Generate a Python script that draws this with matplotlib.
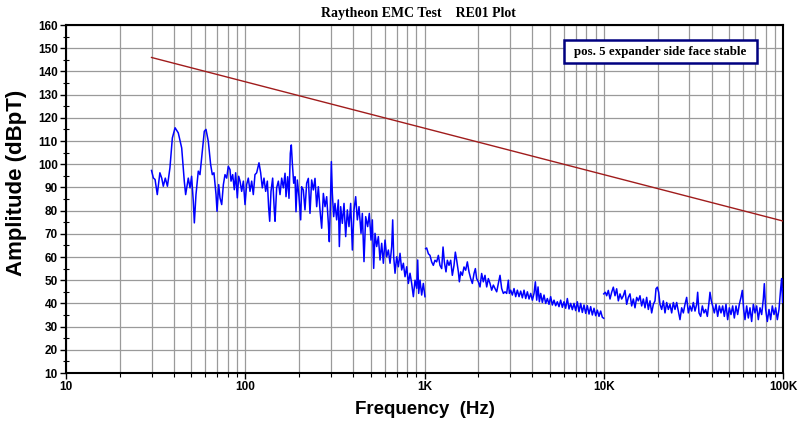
import matplotlib
matplotlib.use("Agg")
import matplotlib.pyplot as plt
from matplotlib.ticker import FixedLocator, FixedFormatter, LogLocator, NullFormatter, MultipleLocator
from matplotlib.patches import Rectangle

# ---------------- data ----------------
seg1_freq = [30.0, 30.7, 31.4, 32.3, 33.4, 34.2, 34.9, 35.8, 36.8, 38.0, 39.2, 40.6, 42.3, 44.2, 45.7, 46.5,
             48.1, 49.2, 50.2, 51.3, 52.0, 53.1, 54.7, 55.9, 57.4, 59.1, 60.4, 62.2, 64.1, 65.5, 66.9, 68.7,
             69.6, 71.1, 72.3, 73.9, 75.5, 77.1, 78.8, 80.4, 82.2, 83.3, 85.1, 86.9, 88.4, 90.3, 91.9, 93.5,
             95.5, 97.6, 99.7, 101.8, 104.0, 106.3, 108.6, 110.9, 113.3, 115.8, 119.3, 121.9, 124.5, 127.2,
             130.0, 132.8, 135.1, 136.9, 139.2, 142.2, 145.3, 146.6, 149.7, 153.0, 156.3, 159.7, 163.1,
             166.7, 168.8, 172.4, 175.4, 178.4, 180.7, 183.1, 186.3, 189.5, 191.9, 195.2, 199.4, 203.8, 206.4,
             210.9, 215.4, 220.1, 224.9, 229.7, 234.7, 239.8, 245.0, 250.3, 255.7, 261.2, 266.9, 272.7, 278.6,
             284.6, 290.8, 294.5, 298.3, 302.2, 306.1, 311.4, 316.7, 323.6, 330.6, 334.9, 340.7, 348.0, 355.6,
             363.3, 371.1, 379.1, 387.4, 395.8, 404.3, 413.1, 422.0, 431.2, 442.4, 450.0, 459.7, 469.7, 481.9,
             492.3, 503.0, 511.7, 520.6, 529.6, 541.1, 552.8, 564.8, 577.0, 589.5, 602.2, 615.3, 628.6, 642.2,
             656.1, 664.6, 673.2, 684.8, 699.6, 714.8, 730.2, 746.0, 762.2, 778.6, 795.5, 812.7, 830.3, 848.2,
             866.6, 885.3, 904.5, 916.2, 928.0, 944.0, 964.4, 985.1, 1006.0]
seg1_amp = [97.3, 94.1, 93.4, 86.9, 96.3, 94.0, 90.5, 94.0, 90.5, 98.4, 111.3, 115.7, 113.5, 107.0, 92.7, 86.9,
            94.0, 89.8, 94.8, 84.0, 74.7, 86.9, 97.0, 95.5, 104.2, 114.2, 115.0, 109.9, 99.9, 95.5, 96.3, 86.9,
            79.7, 91.2, 85.5, 82.6, 91.2, 95.5, 94.0, 99.1, 97.7, 92.7, 95.5, 89.0, 96.3, 85.5, 94.8, 92.7,
            88.3, 92.7, 82.6, 91.2, 94.0, 88.3, 92.7, 86.9, 95.5, 96.3, 100.6, 96.3, 89.8, 94.0,
            88.3, 92.7, 81.2, 75.4, 88.3, 94.0, 79.7, 75.4, 89.8, 92.7, 86.9, 94.0, 89.8,
            96.1, 86.0, 94.6, 85.3, 104.7, 108.3, 100.4, 91.8, 94.6, 79.5, 93.2, 86.0, 76.0, 90.3,
            88.9, 80.3, 91.8, 93.9, 78.8, 93.2, 88.9, 93.9, 81.7, 90.3, 80.3, 72.4, 87.4, 81.7,
            86.0, 74.5, 66.6, 81.7, 101.1, 87.4, 77.4, 83.1, 76.0, 84.6, 64.5, 81.7, 74.5, 83.1,
            68.8, 80.3, 73.1, 83.1, 63.0, 80.3, 86.0, 76.0, 81.7, 70.2, 78.8, 58.0, 77.4, 73.1,
            78.8, 67.3, 76.0, 55.1, 70.2, 64.5, 68.8, 58.7, 65.9, 57.3, 67.3, 60.1, 63.0, 57.3,
            64.5, 76.0, 60.1, 53.0, 60.1, 55.8, 61.6, 54.4, 57.3, 51.5, 55.8, 48.6, 53.0, 48.6,
            42.9, 50.0, 46.5, 58.7, 44.3, 50.0, 43.6, 48.6, 42.9]

seg2_freq = [1015, 1028, 1051, 1073, 1096, 1120, 1144, 1169, 1195, 1220, 1247, 1269, 1290, 1318, 1341, 1370,
             1400, 1430, 1461, 1486, 1512, 1545, 1565, 1592, 1626, 1661, 1697, 1734, 1771, 1810, 1849, 1889,
             1922, 1954, 1997, 2040, 2084, 2129, 2175, 2223, 2271, 2320, 2370, 2422, 2474, 2528, 2582, 2638,
             2695, 2754, 2813, 2874, 2936, 2974, 3026, 3091, 3158, 3226, 3296, 3368, 3441, 3515, 3591, 3669,
             3749, 3830, 3913, 3997, 4084, 4154, 4226, 4299, 4373, 4448, 4545, 4642, 4743, 4845, 4950, 5057,
             5166, 5278, 5392, 5509, 5628, 5750, 5874, 6001, 6131, 6264, 6399, 6538, 6679, 6824, 6972, 7122,
             7277, 7434, 7595, 7760, 7928, 8099, 8275, 8454, 8637, 8824, 9015, 9210, 9408, 9612, 9820, 10000]
seg2_amp = [63.6, 63.9, 61.4, 60.7, 57.9, 56.4, 58.6, 57.9, 60.7, 56.4, 55.0, 64.3, 57.9, 53.6, 58.6, 56.4,
            58.6, 52.1, 56.4, 62.1, 58.6, 53.6, 49.3, 53.6, 52.1, 55.7, 54.3, 57.9, 53.6, 50.7, 48.6, 52.9,
            55.0, 50.7, 49.3, 47.1, 52.9, 49.3, 52.1, 47.1, 50.7, 48.6, 45.7, 47.9, 46.4, 45.0, 48.6, 52.1,
            46.4, 44.3, 45.0, 44.3, 50.0, 44.3, 45.7, 43.6, 46.4, 42.9, 45.7, 42.9, 45.3, 42.4, 45.7, 42.1,
            45.0, 41.9, 44.3, 41.4, 44.3, 49.3, 41.4, 47.1, 40.7, 44.3, 40.4, 43.6, 40.0, 42.1, 39.6, 42.9,
            39.3, 41.4, 39.0, 40.7, 38.6, 41.4, 38.3, 40.7, 37.9, 42.1, 37.6, 40.0, 37.3, 40.0, 36.9, 40.7,
            36.4, 40.0, 36.1, 39.3, 35.7, 39.0, 35.4, 38.6, 35.0, 37.9, 34.7, 37.1, 34.4, 36.7, 34.0, 33.6]

seg3_freq = [10000, 10205, 10382, 10606, 10836, 11070, 11310, 11555, 11805, 12060, 12321, 12588, 12860, 13138,
             13423, 13713, 14010, 14313, 14623, 14939, 15263, 15593, 15930, 16275, 16627, 16987, 17354, 17730,
             18114, 18505, 18906, 19315, 19565, 19903, 20247, 20597, 21043, 21498, 21963, 22439, 22924, 23420,
             23927, 24445, 24974, 25514, 26066, 26630, 27206, 27795, 28396, 29011, 29638, 30280, 30935, 31605,
             32289, 32987, 33414, 33991, 34726, 35477, 36245, 37029, 37830, 38649, 39148, 39824, 40512, 41389,
             42284, 43199, 44134, 45089, 46065, 47062, 48080, 49120, 50183, 51269, 52379, 53512, 54670, 55853,
             57061, 58296, 59303, 60328, 61370, 62698, 64055, 65441, 66857, 68304, 69782, 71292, 72835, 74411,
             76021, 77666, 78670, 80030, 81762, 83531, 85338, 87185, 89071, 90999, 92968, 94980, 97035, 98287,
             99572, 100000]
seg3_amp = [44.1, 44.8, 43.3, 45.6, 41.9, 44.8, 47.0, 43.3, 46.3, 41.1, 44.1, 41.9, 43.3, 45.6,
            39.6, 42.6, 44.1, 38.9, 41.9, 38.1, 42.6, 41.1, 43.3, 38.9, 41.9, 38.1, 42.6, 37.4,
            41.1, 35.9, 39.6, 41.1, 46.3, 47.0, 44.8, 39.6, 37.4, 41.1, 35.9, 40.4, 37.4, 39.6,
            35.9, 40.4, 37.4, 40.4, 36.7, 33.0, 38.1, 35.9, 39.6, 42.6, 35.9, 38.9, 36.7, 40.4,
            36.7, 39.6, 44.8, 35.9, 34.4, 38.9, 35.9, 37.4, 34.4, 40.4, 44.8, 41.1, 38.9, 35.9,
            39.6, 34.4, 38.9, 35.9, 38.9, 34.4, 39.6, 33.0, 38.1, 35.2, 38.9, 33.7, 38.9, 35.2,
            39.6, 42.6, 45.6, 37.4, 33.0, 38.9, 33.7, 38.1, 32.2, 39.6, 35.9, 38.9, 33.0, 38.1,
            35.2, 41.9, 48.5, 37.4, 32.2, 37.4, 33.0, 38.9, 35.2, 38.1, 33.0, 37.4, 46.3, 50.7,
            40.4, 46.3]

limit_freq = [30, 100000]
limit_amp = [146.0, 75.5]

xtick_vals = [10, 100, 1000, 10000, 100000]
xtick_labels = ["10", "100", "1K", "10K", "100K"]
ytick_vals = list(range(10, 161, 10))

title_text = "Raytheon EMC Test    RE01 Plot"
legend_text = "pos. 5 expander side face stable"
xlabel_text = "Frequency  (Hz)"
ylabel_text = "Amplitude (dBpT)"

# ---------------- figure ----------------
W, H = 801, 424
fig = plt.figure(figsize=(W / 100, H / 100), dpi=100)
L, R, T, B = 66, 783, 25, 373
ax = fig.add_axes([L / W, 1 - B / H, (R - L) / W, (B - T) / H])

ax.set_xscale("log")
ax.set_xlim(10, 100000)
ax.set_ylim(10, 160)

grid_c = "#9a9a9a"
ax.grid(True, which="major", axis="both", color=grid_c, lw=0.9)
ax.grid(True, which="minor", axis="x", color=grid_c, lw=0.9)
ax.set_axisbelow(True)

blue = "#0000ff"
ax.plot(seg1_freq, seg1_amp, color=blue, lw=1.1, zorder=3)
ax.plot(seg2_freq, seg2_amp, color=blue, lw=1.1, zorder=3)
ax.plot(seg3_freq, seg3_amp, color=blue, lw=1.1, zorder=3)
ax.plot(limit_freq, limit_amp, color="#a01c1c", lw=1.0, zorder=3)

tick_font = dict(family="Liberation Sans", weight="bold", size=8.5)
ax.xaxis.set_major_locator(FixedLocator(xtick_vals))
ax.xaxis.set_major_formatter(FixedFormatter(xtick_labels))
ax.xaxis.set_minor_locator(LogLocator(base=10, subs=[2, 3, 4, 5, 6, 7, 8, 9], numticks=20))
ax.xaxis.set_minor_formatter(NullFormatter())
ax.yaxis.set_major_locator(FixedLocator(ytick_vals))
ax.yaxis.set_minor_locator(MultipleLocator(5))
for lab in ax.get_xticklabels() + ax.get_yticklabels():
    lab.set_fontproperties(matplotlib.font_manager.FontProperties(**tick_font))
ax.tick_params(which="major", direction="out", length=4, width=1, color="black", pad=2)
ax.tick_params(which="minor", direction="out", length=3, width=0.8, color="black")
ax.tick_params(axis="y", which="minor", direction="inout", length=4)

for s in ax.spines.values():
    s.set_color("black")
    s.set_linewidth(1.5)

# legend box
bx0, bx1 = (564 - L) / (R - L), (757 - L) / (R - L)
by0, by1 = (B - 63) / (B - T), (B - 40) / (B - T)
ax.add_patch(Rectangle((bx0, by0), bx1 - bx0, by1 - by0, transform=ax.transAxes,
                       facecolor="white", edgecolor="#000080", lw=1.8, zorder=5))
ax.text((bx0 + bx1) / 2, (by0 + by1) / 2, legend_text, transform=ax.transAxes,
        ha="center", va="center", family="Liberation Serif", weight="bold", size=9.3, zorder=6)

fig.text(418 / W, 1 - 13 / H, title_text, ha="center", va="center",
         family="Liberation Serif", weight="bold", size=10)
fig.text(425 / W, 1 - 410 / H, xlabel_text, ha="center", va="center",
         family="Liberation Sans", weight="bold", size=13.5)
fig.text(17 / W, 1 - 183 / H, ylabel_text, ha="center", va="center", rotation=90,
         family="Liberation Sans", weight="bold", size=16)

fig.savefig("out.png", dpi=100, facecolor="white")
